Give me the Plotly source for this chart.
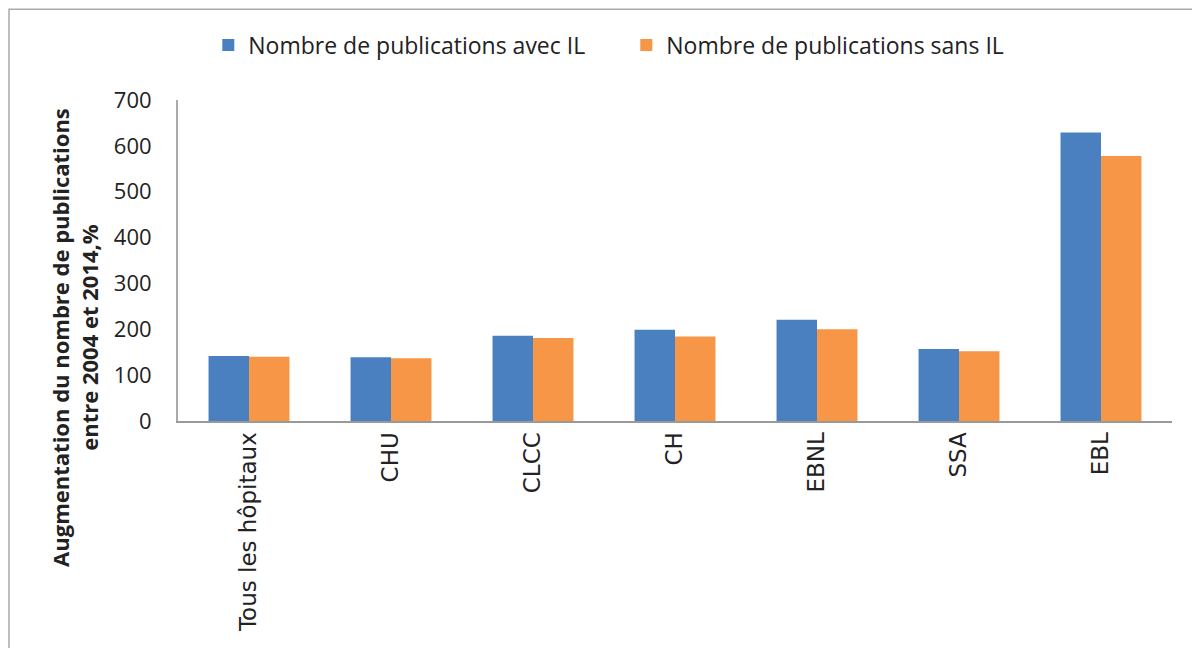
import plotly.graph_objects as go

categories = ["Tous les hôpitaux", "CHU", "CLCC", "CH", "EBNL", "SSA", "EBL"]
avec_il = [142, 139, 186, 199, 221, 157, 629]
sans_il = [140, 137, 181, 184, 200, 152, 578]
series_names = ["Nombre de publications avec IL", "Nombre de publications sans IL"]
y_ticks = [0, 100, 200, 300, 400, 500, 600, 700]

fig = go.Figure()
fig.add_trace(go.Bar(x=categories, y=avec_il, name=series_names[0],
                     marker=dict(color="#4a80bf", line=dict(width=0))))
fig.add_trace(go.Bar(x=categories, y=sans_il, name=series_names[1],
                     marker=dict(color="#f69646", line=dict(width=0))))

fig.update_layout(
    width=1200, height=648,
    paper_bgcolor="white", plot_bgcolor="white",
    barmode="group", bargap=0.43, bargroupgap=0,
    margin=dict(l=170, r=36, t=92, b=235, autoexpand=False),
    font=dict(family="Open Sans, sans-serif", color="#222222"),
    legend=dict(orientation="h", x=0.451, xanchor="center", y=1.171, yanchor="middle",
                bgcolor="rgba(0,0,0,0)",
                font=dict(size=23, family="Open Sans, sans-serif"),
                itemwidth=30, tracegroupgap=0, entrywidth=373, entrywidthmode="pixels"),
    xaxis=dict(showline=True, linecolor="#999999", linewidth=2, tickangle=-90,
               tickfont=dict(size=23, family="DejaVu Sans, sans-serif"),
               ticks="", showgrid=False, automargin=False),
    yaxis=dict(range=[0, 700], tickvals=y_ticks, showline=True, linecolor="#aaaaaa",
               linewidth=2, showgrid=False, ticks="", ticklen=0, automargin=False,
               ticklabelstandoff=20,
               tickfont=dict(size=22, family="Open Sans, sans-serif")),
    annotations=[dict(text="<b>Augmentation du nombre de publications<br>entre 2004 et 2014,%</b>",
                      xref="paper", yref="paper", x=-0.1036, y=0.259, textangle=-90,
                      showarrow=False, xanchor="center", yanchor="middle",
                      font=dict(size=22, family="Open Sans, sans-serif", color="#222222"))],
    shapes=[dict(type="rect", xref="paper", yref="paper", x0=-0.170, x1=1.04, y0=-0.75, y1=1.283,
                 line=dict(color="#aaaaaa", width=1.5), fillcolor="rgba(0,0,0,0)")],
)

fig.write_html("out.html")
